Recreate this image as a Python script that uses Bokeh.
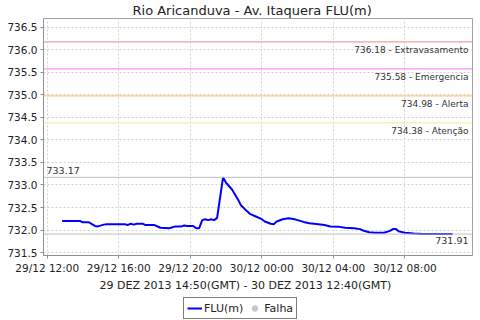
import pandas as pd
from bokeh.plotting import figure
from bokeh.layouts import column
from bokeh.models import (Range1d, Span, Label, Legend, LegendItem, DatetimeTickFormatter,
                          FixedTicker, NumeralTickFormatter, Title)
from bokeh.embed import file_html
from bokeh.resources import INLINE

# ---------------- data ----------------
times = [
    "2013-12-29 12:50", "2013-12-29 13:20", "2013-12-29 13:50", "2013-12-29 14:00",
    "2013-12-29 14:20", "2013-12-29 14:40", "2013-12-29 14:50", "2013-12-29 15:10",
    "2013-12-29 15:20", "2013-12-29 16:20", "2013-12-29 16:30", "2013-12-29 16:40",
    "2013-12-29 16:50", "2013-12-29 17:00", "2013-12-29 17:20", "2013-12-29 17:30",
    "2013-12-29 18:00", "2013-12-29 18:20", "2013-12-29 18:50", "2013-12-29 19:10",
    "2013-12-29 19:30", "2013-12-29 19:40", "2013-12-29 19:50", "2013-12-29 20:10",
    "2013-12-29 20:20", "2013-12-29 20:30", "2013-12-29 20:40", "2013-12-29 20:50",
    "2013-12-29 21:00", "2013-12-29 21:10", "2013-12-29 21:20", "2013-12-29 21:30",
    "2013-12-29 21:50", "2013-12-29 22:00", "2013-12-29 22:20", "2013-12-29 22:40",
    "2013-12-29 22:50", "2013-12-29 23:10", "2013-12-29 23:20", "2013-12-29 23:40",
    "2013-12-30 00:00", "2013-12-30 00:10", "2013-12-30 00:30", "2013-12-30 00:40",
    "2013-12-30 00:50", "2013-12-30 01:10", "2013-12-30 01:30", "2013-12-30 01:50",
    "2013-12-30 02:00", "2013-12-30 02:20", "2013-12-30 02:40", "2013-12-30 03:10",
    "2013-12-30 03:30", "2013-12-30 03:50", "2013-12-30 04:20", "2013-12-30 04:40",
    "2013-12-30 05:10", "2013-12-30 05:30", "2013-12-30 05:40", "2013-12-30 06:00",
    "2013-12-30 06:20", "2013-12-30 06:50", "2013-12-30 07:10", "2013-12-30 07:20",
    "2013-12-30 07:30", "2013-12-30 07:40", "2013-12-30 08:00", "2013-12-30 08:30",
    "2013-12-30 09:00", "2013-12-30 09:30", "2013-12-30 10:00", "2013-12-30 10:40",
]
levels = [
    732.20, 732.20, 732.20, 732.17,
    732.17, 732.09, 732.08, 732.12,
    732.13, 732.13, 732.11, 732.14,
    732.12, 732.14, 732.14, 732.11,
    732.11, 732.05, 732.04, 732.08,
    732.08, 732.10, 732.09, 732.09,
    732.04, 732.04, 732.22, 732.24,
    732.22, 732.24, 732.22, 732.27,
    733.17, 733.05, 732.90, 732.68,
    732.55, 732.42, 732.36, 732.30,
    732.24, 732.19, 732.14, 732.13,
    732.19, 732.24, 732.26, 732.24,
    732.22, 732.18, 732.15, 732.13,
    732.11, 732.08, 732.07, 732.05,
    732.04, 732.02, 731.99, 731.95,
    731.94, 731.94, 731.98, 732.02,
    732.02, 731.97, 731.94, 731.92,
    731.91, 731.91, 731.91, 731.91,
]
threshold_values = [736.18, 735.58, 734.98, 734.38]
threshold_names = ["Extravasamento", "Emergencia", "Alerta", "Atenção"]
threshold_colors = ["#f2a0a0", "#ff8cff", "#ffc488", "#f9eea8"]

x_tick_labels_times = ["2013-12-29 12:00", "2013-12-29 16:00", "2013-12-29 20:00",
                       "2013-12-30 00:00", "2013-12-30 04:00", "2013-12-30 08:00"]
y_ticks = [731.5, 732.0, 732.5, 733.0, 733.5, 734.0, 734.5, 735.0, 735.5, 736.0, 736.5]

title_text = "Rio Aricanduva - Av. Itaquera FLU(m)"
period_text = "29 DEZ 2013 14:50(GMT) - 30 DEZ 2013 12:40(GMT)"
series_name = "FLU(m)"
fail_name = "Falha"

# ---------------- build ----------------
def ms(s):
    return pd.Timestamp(s).value // 10**6

x = pd.to_datetime(times)
FONT = "DejaVu Sans"
W = 480
H_MAIN, H_LEG = 292, 28
LEFT, RIGHT, TOP = 43, 8, 16
BOTTOM = H_MAIN - 255

p = figure(width=W, height=H_MAIN, x_axis_type="datetime", output_backend="svg",
           toolbar_location=None,
           x_range=Range1d(ms("2013-12-29 11:47:30"), ms("2013-12-30 11:47:00")),
           y_range=Range1d(731.434, 736.698),
           min_border_left=LEFT, min_border_right=RIGHT,
           min_border_top=TOP, min_border_bottom=BOTTOM)
p.background_fill_color = "white"
p.border_fill_color = "white"
p.outline_line_color = "#a0a0a0"
p.outline_line_width = 1

# title
p.title.text = title_text
p.title.align = "left"
p.title.offset = 89
p.title.standoff = 1
p.title.text_font = FONT
p.title.text_font_size = "13px"
p.title.text_font_style = "normal"
p.title.text_color = "#222222"

# grids
for g in (p.xgrid, p.ygrid):
    g.grid_line_color = "#d4d4d4"
    g.grid_line_dash = "2 2"
    g.grid_line_width = 1

# axes
p.xaxis.ticker = FixedTicker(ticks=[ms(t) for t in x_tick_labels_times])
p.xaxis.formatter = DatetimeTickFormatter(
    milliseconds="%d/%m %H:%M", seconds="%d/%m %H:%M", minsec="%d/%m %H:%M",
    minutes="%d/%m %H:%M", hourmin="%d/%m %H:%M", hours="%d/%m %H:%M",
    days="%d/%m %H:%M", months="%d/%m %H:%M", years="%d/%m %H:%M")
p.yaxis.ticker = FixedTicker(ticks=y_ticks)
p.yaxis.formatter = NumeralTickFormatter(format="0.0")
for ax in (p.xaxis[0], p.yaxis[0]):
    ax.axis_line_color = "#909090"
    ax.major_tick_line_color = "#909090"
    ax.major_tick_out = 3
    ax.major_tick_in = 0
    ax.minor_tick_line_color = None
    ax.major_label_text_font = FONT
    ax.major_label_text_font_size = "10.5px"
    ax.major_label_text_color = "#222222"
    ax.major_label_standoff = 3

# period subtitle below the x axis
p.add_layout(Title(text=period_text, align="left", offset=56, standoff=0,
                   text_font=FONT, text_font_size="11px", text_font_style="normal",
                   text_color="#222222"), "below")

# thresholds
for v, name, c in zip(threshold_values, threshold_names, threshold_colors):
    p.add_layout(Span(location=v, dimension="width", line_color=c, line_width=1.2))
    p.add_layout(Label(x=p.x_range.end, y=v, x_offset=-4, y_offset=-3,
                       text=f"{v:.2f} - {name}", text_align="right", text_baseline="top",
                       text_font=FONT, text_font_size="9px", text_color="#333333"))

# max / last value markers
vmax = max(levels)
vlast = levels[-1]
p.add_layout(Span(location=vmax, dimension="width", line_color="#bfbfbf", line_width=1))
p.add_layout(Span(location=vlast, dimension="width", line_color="#bfbfbf", line_width=1))
p.add_layout(Label(x=p.x_range.start, y=vmax, x_offset=3, y_offset=3,
                   text=f"{vmax:.2f}", text_align="left", text_baseline="bottom",
                   text_font=FONT, text_font_size="9.5px", text_color="#333333"))
p.add_layout(Label(x=p.x_range.end, y=vlast, x_offset=-4, y_offset=-3,
                   text=f"{vlast:.2f}", text_align="right", text_baseline="top",
                   text_font=FONT, text_font_size="9.5px", text_color="#333333"))

# series
p.line(x, levels, line_color="#0000ff", line_width=2)

# legend strip (separate figure so the legend is not clipped by the plot frame).
# Its proxy renderers reuse the series data, which lies outside this strip's ranges.
q = figure(width=W, height=H_LEG, output_backend="svg", toolbar_location=None,
           x_range=Range1d(0, 1), y_range=Range1d(0, 1),
           x_axis_location=None, y_axis_location=None,
           min_border=0, min_border_left=0, min_border_right=0,
           min_border_top=0, min_border_bottom=0)
q.outline_line_color = None
q.xgrid.visible = False
q.ygrid.visible = False
q.background_fill_color = "white"
q.border_fill_color = "white"
leg_line = q.line(x=x, y=levels, line_color="#0000ff", line_width=2)
leg_fail = q.scatter(x=x[:1], y=levels[:1], marker="circle", size=9,
                     fill_color="#c8c8c8", line_color="#c8c8c8")
legend = Legend(items=[LegendItem(label=series_name, renderers=[leg_line]),
                       LegendItem(label=fail_name, renderers=[leg_fail])],
                location=(140, 1), orientation="horizontal",
                label_text_font=FONT, label_text_font_size="11px",
                label_text_color="#222222",
                border_line_color="black", border_line_width=1,
                background_fill_color="white", background_fill_alpha=1,
                padding=3, spacing=4, glyph_width=15, glyph_height=14,
                label_standoff=2, margin=0, label_height=14)
q.add_layout(legend, "center")

layout = column(p, q, spacing=0)
open("out.html", "w").write(file_html(layout, INLINE))
